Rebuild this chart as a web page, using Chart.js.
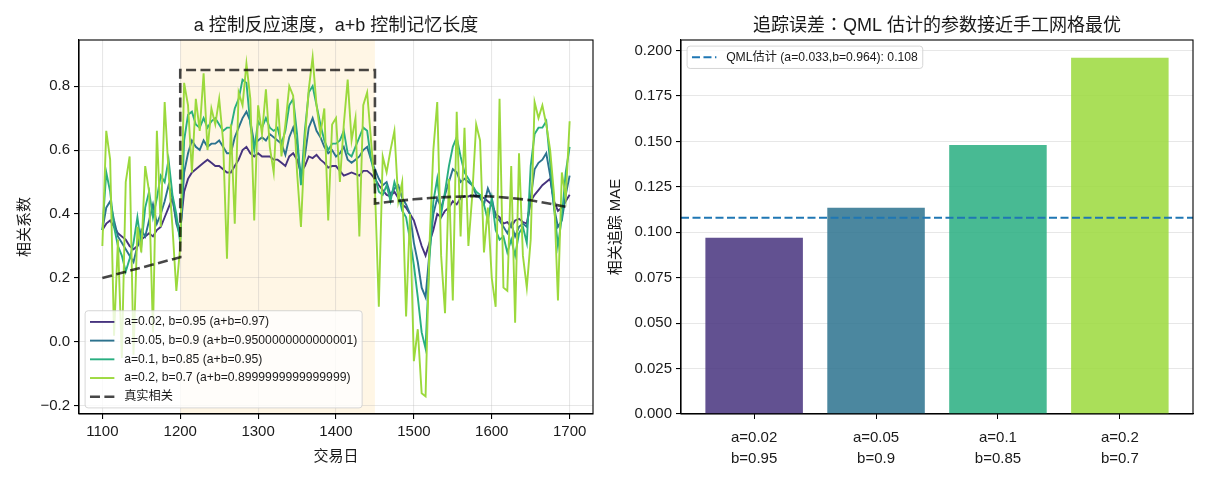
<!DOCTYPE html>
<html>
<head>
<meta charset="utf-8">
<script src="https://cdn.jsdelivr.net/npm/chart.js@4.4.1/dist/chart.umd.min.js"></script>
<style>
  html, body { margin: 0; padding: 0; background: #fff; }
  #wrap { position: relative; width: 1210px; height: 484px; }
  #leftChart { position: absolute; left: 0; top: 0; }
  #rightChart { position: absolute; left: 605px; top: 0; }
</style>
</head>
<body>
<div id="wrap">
  <canvas id="leftChart" width="605" height="484"></canvas>
  <canvas id="rightChart" width="605" height="484"></canvas>
</div>
<script>
const FONT = "'Liberation Sans', 'Noto Sans CJK SC', sans-serif";
const TEXT = '#1a1a1a';
const GRID = 'rgba(176,176,176,0.3)';
Chart.defaults.font.family = FONT;
Chart.defaults.color = TEXT;

// ---- left panel: rolling correlation by (a, b) ----
// trading days, sampled every 5 days
const days = [];
for (let d = 1100; d <= 1700; d += 5) days.push(d);

const seriesLabels = [
  'a=0.02, b=0.95 (a+b=0.97)',
  'a=0.05, b=0.9 (a+b=0.9500000000000001)',
  'a=0.1, b=0.85 (a+b=0.95)',
  'a=0.2, b=0.7 (a+b=0.8999999999999999)'
];
const seriesColors = ['#46337e', '#2c728e', '#28ae80', '#9bd93c'];

const corrA002 = [
  0.35, 0.37, 0.38, 0.36, 0.34, 0.33, 0.32, 0.30, 0.29, 0.30, 0.32, 0.33, 0.34, 0.33, 0.35, 0.36, 0.39, 0.42, 0.45, 0.38, 0.35,
  0.47, 0.51, 0.53, 0.54, 0.55, 0.56, 0.57, 0.56, 0.55, 0.55, 0.54, 0.53, 0.53, 0.55, 0.57, 0.60, 0.61, 0.59, 0.58, 0.59,
  0.58, 0.58, 0.58, 0.57, 0.57, 0.56, 0.55, 0.58, 0.59, 0.57, 0.53, 0.55, 0.58, 0.575, 0.585, 0.57, 0.56, 0.545, 0.55, 0.55,
  0.535, 0.52, 0.525, 0.53, 0.525, 0.52, 0.535, 0.535, 0.525, 0.51, 0.49, 0.475, 0.46, 0.455, 0.47, 0.45, 0.43, 0.42, 0.40, 0.38,
  0.34, 0.30, 0.27, 0.31, 0.35, 0.40, 0.39, 0.41, 0.42, 0.44, 0.43, 0.45, 0.455, 0.455, 0.46, 0.455, 0.455, 0.45, 0.44, 0.43,
  0.40, 0.39, 0.37, 0.375, 0.36, 0.38, 0.385, 0.375, 0.37, 0.44, 0.46, 0.475, 0.49, 0.50, 0.51, 0.44, 0.41, 0.42, 0.44, 0.46
];
const corrA005 = [
  0.35, 0.42, 0.44, 0.38, 0.33, 0.31, 0.29, 0.27, 0.25, 0.30, 0.35, 0.33, 0.38, 0.43, 0.37, 0.40, 0.44, 0.49, 0.45, 0.37, 0.33,
  0.53, 0.59, 0.63, 0.61, 0.60, 0.63, 0.61, 0.62, 0.62, 0.63, 0.61, 0.59, 0.59, 0.64, 0.67, 0.70, 0.72, 0.69, 0.62, 0.63,
  0.64, 0.63, 0.65, 0.64, 0.63, 0.62, 0.585, 0.64, 0.67, 0.62, 0.51, 0.58, 0.67, 0.70, 0.66, 0.64, 0.61, 0.59, 0.60, 0.58,
  0.59, 0.61, 0.57, 0.56, 0.57, 0.58, 0.60, 0.61, 0.57, 0.54, 0.51, 0.49, 0.50, 0.46, 0.48, 0.49, 0.45, 0.43, 0.40, 0.31,
  0.25, 0.17, 0.14, 0.28, 0.40, 0.45, 0.42, 0.46, 0.50, 0.54, 0.53, 0.50, 0.51, 0.50, 0.49, 0.46, 0.45, 0.43, 0.48, 0.45,
  0.39, 0.38, 0.36, 0.34, 0.37, 0.33, 0.36, 0.37, 0.36, 0.45, 0.54, 0.56, 0.57, 0.59, 0.52, 0.42, 0.36, 0.38, 0.46, 0.52
];
const corrA01 = [
  0.35, 0.53, 0.47, 0.36, 0.30, 0.27, 0.22, 0.26, 0.31, 0.39, 0.30, 0.42, 0.47, 0.39, 0.45, 0.52, 0.50, 0.57, 0.46, 0.40, 0.31,
  0.63, 0.71, 0.72, 0.68, 0.67, 0.70, 0.67, 0.69, 0.70, 0.68, 0.66, 0.67, 0.67, 0.73, 0.76, 0.82, 0.81, 0.68, 0.60, 0.69,
  0.67, 0.70, 0.67, 0.66, 0.67, 0.62, 0.66, 0.74, 0.76, 0.65, 0.49, 0.66, 0.78, 0.80, 0.74, 0.68, 0.63, 0.60, 0.62, 0.62,
  0.63, 0.66, 0.59, 0.58, 0.61, 0.64, 0.67, 0.66, 0.57, 0.52, 0.47, 0.46, 0.49, 0.44, 0.50, 0.46, 0.41, 0.39, 0.32, 0.24,
  0.14, 0.03, -0.02, 0.26, 0.44, 0.51, 0.40, 0.47, 0.55, 0.61, 0.64, 0.58, 0.53, 0.51, 0.49, 0.47, 0.46, 0.43, 0.38, 0.45,
  0.35, 0.32, 0.33, 0.28, 0.32, 0.27, 0.34, 0.36, 0.31, 0.55, 0.65, 0.67, 0.67, 0.69, 0.56, 0.42, 0.30, 0.39, 0.53, 0.61
];
const corrA02 = [
  0.30, 0.66, 0.57, 0.02, 0.32, -0.05, 0.50, 0.58, -0.04, 0.36, 0.28, 0.55, 0.47, 0.03, 0.66, 0.36, 0.75, 0.53, 0.36, 0.16, 0.30,
  0.81, 0.74, 0.53, 0.76, 0.66, 0.84, 0.60, 0.73, 0.68, 0.76, 0.63, 0.26, 0.68, 0.37, 0.78, 0.74, 0.87, 0.76, 0.38, 0.74,
  0.65, 0.79, 0.61, 0.53, 0.76, 0.58, 0.68, 0.80, 0.77, 0.53, 0.36, 0.63, 0.79, 0.89, 0.74, 0.65, 0.73, 0.38, 0.68, 0.70,
  0.50, 0.68, 0.82, 0.63, 0.70, 0.33, 0.74, 0.78, 0.63, 0.48, 0.11, 0.58, 0.53, 0.60, 0.66, 0.44, 0.50, 0.08, 0.40, -0.06,
  0.04, -0.16, -0.17, 0.30, 0.60, 0.75, 0.27, 0.09, 0.51, 0.13, 0.72, 0.33, 0.67, 0.30, 0.46, 0.68, 0.63, 0.28, 0.42, 0.20,
  0.11, 0.76, 0.17, 0.16, 0.55, 0.06, 0.59, 0.27, 0.17, 0.32, 0.75, 0.70, 0.74, 0.68, 0.60, 0.46, 0.13, 0.53, 0.45, 0.69
];
const allSeries = [corrA002, corrA005, corrA01, corrA02];

// true correlation: jumps at the regime boundaries
const trueDays = [1100, 1200, 1200, 1450, 1450, 1475, 1500, 1525, 1550, 1575, 1600, 1625, 1650, 1675, 1700];
const trueCorr = [0.20, 0.265, 0.85, 0.85, 0.433, 0.440, 0.446, 0.451, 0.454, 0.456, 0.455, 0.450, 0.443, 0.432, 0.42];
const regimeStart = 1200, regimeEnd = 1450;

const xTicksLeft = [1100, 1200, 1300, 1400, 1500, 1600, 1700];
const yTicksLeft = [-0.2, 0, 0.2, 0.4, 0.6, 0.8];

// ---- right panel: tracking MAE ----
const paramA = ['0.02', '0.05', '0.1', '0.2'];
const paramB = ['0.95', '0.9', '0.85', '0.7'];
const maeVals = [0.097, 0.1135, 0.148, 0.196];
const barColors = ['rgba(70,51,126,0.85)', 'rgba(44,114,142,0.85)', 'rgba(40,174,128,0.85)', 'rgba(155,217,60,0.85)'];
const qmlMae = 0.108;
const qmlLabel = 'QML估计 (a=0.033,b=0.964): 0.108';
const yTicksRight = [0, 0.025, 0.05, 0.075, 0.1, 0.125, 0.15, 0.175, 0.2];
const xMinR = -0.6, xMaxR = 3.6;

function drawFrame(chart) {
  const { ctx, chartArea: a } = chart;
  ctx.save();
  ctx.strokeStyle = '#000';
  ctx.lineWidth = 1.1;
  ctx.strokeRect(a.left, a.top, a.right - a.left, a.bottom - a.top);
  ctx.restore();
}

function drawLegend(chart, items, where) {
  const { ctx, chartArea: a } = chart;
  const fs = 12.2, pad = 0.4 * fs, handle = 2 * fs, gap = 0.8 * fs, rowGap = 0.5 * fs, rowH = 12.6, edge = 0.5 * fs;
  ctx.save();
  ctx.font = fs + 'px ' + FONT;
  const textW = Math.max(...items.map(it => ctx.measureText(it.label).width));
  const w = 2 * pad + handle + gap + textW;
  const h = 2 * pad + items.length * rowH + (items.length - 1) * rowGap;
  const x0 = a.left + edge;
  const y0 = where === 'lower left' ? a.bottom - edge - h : a.top + edge;
  ctx.beginPath();
  ctx.roundRect(x0, y0, w, h, 3);
  ctx.fillStyle = 'rgba(255,255,255,0.8)';
  ctx.fill();
  ctx.strokeStyle = 'rgba(204,204,204,0.8)';
  ctx.lineWidth = 1;
  ctx.stroke();
  items.forEach((it, i) => {
    const cy = y0 + pad + i * (rowH + rowGap) + rowH / 2;
    ctx.beginPath();
    ctx.setLineDash(it.dash || []);
    ctx.strokeStyle = it.color;
    ctx.lineWidth = it.width;
    ctx.moveTo(x0 + pad, cy);
    ctx.lineTo(x0 + pad + handle, cy);
    ctx.stroke();
    ctx.setLineDash([]);
    ctx.fillStyle = TEXT;
    ctx.textBaseline = 'middle';
    ctx.textAlign = 'left';
    ctx.fillText(it.label, x0 + pad + handle + gap, cy);
  });
  ctx.restore();
}

function legendItems(chart) {
  return chart.data.datasets
    .filter(ds => ds.inLegend)
    .map(ds => ({ label: ds.label, color: ds.borderColor, dash: ds.borderDash, width: ds.borderWidth }));
}

const leftPlugin = {
  id: 'leftDecor',
  beforeDraw(chart) {
    // shaded high-correlation regime, under the grid
    const { ctx, chartArea: a, scales } = chart;
    const x1 = scales.x.getPixelForValue(regimeStart);
    const x2 = scales.x.getPixelForValue(regimeEnd);
    ctx.save();
    ctx.fillStyle = 'rgba(255,165,0,0.1)';
    ctx.fillRect(x1, a.top, x2 - x1, a.bottom - a.top);
    ctx.restore();
  },
  afterDatasetsDraw(chart) { drawFrame(chart); },
  afterDraw(chart) { drawLegend(chart, legendItems(chart), 'lower left'); }
};

const rightPlugin = {
  id: 'rightDecor',
  afterDatasetsDraw(chart) { drawFrame(chart); },
  afterDraw(chart) { drawLegend(chart, legendItems(chart), 'upper left'); }
};

const leftDatasets = allSeries.map((vals, i) => ({
  label: seriesLabels[i],
  data: days.map((d, j) => ({ x: d, y: vals[j] })),
  borderColor: seriesColors[i],
  borderWidth: 1.9,
  pointRadius: 0,
  tension: 0,
  order: 4 - i,
  inLegend: true
}));
leftDatasets.push({
  label: '真实相关',
  data: trueDays.map((d, j) => ({ x: d, y: trueCorr[j] })),
  borderColor: 'rgba(0,0,0,0.72)',
  borderWidth: 2.6,
  borderDash: [10, 4.4],
  pointRadius: 0,
  tension: 0,
  order: 0,
  inLegend: true
});

new Chart(document.getElementById('leftChart').getContext('2d'), {
  type: 'line',
  data: { datasets: leftDatasets },
  options: {
    responsive: false,
    animation: false,
    layout: { padding: { left: 0, right: 12, top: 0, bottom: 0 } },
    plugins: {
      legend: { display: false },
      tooltip: { enabled: false },
      title: {
        display: true,
        text: 'a 控制反应速度，a+b 控制记忆长度',
        font: { size: 18, weight: 'normal' },
        color: TEXT,
        fullSize: false,
        padding: { top: 15, bottom: 3.4 }
      }
    },
    scales: {
      x: {
        type: 'linear',
        min: 1070,
        max: 1730,
        afterBuildTicks: s => { s.ticks = xTicksLeft.map(v => ({ value: v })); },
        afterFit: s => { s.height = 70; },
        grid: { color: GRID, lineWidth: 1.1, tickColor: '#000', tickLength: 5 },
        border: { color: '#000', width: 1.1 },
        ticks: { font: { size: 15 }, padding: 4, maxRotation: 0, color: TEXT, callback: v => String(v) },
        title: { display: true, text: '交易日', font: { size: 15 }, color: TEXT, padding: { top: 0, bottom: 18 } }
      },
      y: {
        type: 'linear',
        min: -0.225,
        max: 0.944,
        afterBuildTicks: s => { s.ticks = yTicksLeft.map(v => ({ value: v })); },
        afterFit: s => { s.width = 79; },
        grid: { color: GRID, lineWidth: 1.1, tickColor: '#000', tickLength: 5 },
        border: { color: '#000', width: 1.1 },
        ticks: { font: { size: 15 }, padding: 4, color: TEXT, callback: v => v.toFixed(1).replace('-', '\u2212') },
        title: { display: true, text: '相关系数', font: { size: 15 }, color: TEXT, padding: { top: 16, bottom: 0 } }
      }
    }
  },
  plugins: [leftPlugin]
});

new Chart(document.getElementById('rightChart').getContext('2d'), {
  type: 'bar',
  data: {
    datasets: [
      {
        type: 'bar',
        label: 'MAE',
        data: maeVals.map((v, i) => ({ x: i, y: v })),
        backgroundColor: barColors,
        borderWidth: 0,
        categoryPercentage: 1,
        barPercentage: 0.8,
        order: 1
      },
      {
        type: 'line',
        label: qmlLabel,
        data: [{ x: xMinR, y: qmlMae }, { x: xMaxR, y: qmlMae }],
        borderColor: '#1f77b4',
        borderWidth: 2.1,
        borderDash: [8, 3.5],
        pointRadius: 0,
        order: 0,
        inLegend: true
      }
    ]
  },
  options: {
    responsive: false,
    animation: false,
    layout: { padding: { left: 0, right: 17, top: 0, bottom: 0 } },
    plugins: {
      legend: { display: false },
      tooltip: { enabled: false },
      title: {
        display: true,
        text: '追踪误差：QML 估计的参数接近手工网格最优',
        // JP glyphs put the full-width colon in the middle of its cell
        font: { size: 18, weight: 'normal', family: "'Liberation Sans', 'Noto Sans CJK JP', sans-serif" },
        color: TEXT,
        fullSize: false,
        padding: { top: 15, bottom: 3.4 }
      }
    },
    scales: {
      x: {
        type: 'linear',
        offset: false,
        min: xMinR,
        max: xMaxR,
        afterBuildTicks: s => { s.ticks = paramA.map((_, i) => ({ value: i })); },
        afterFit: s => { s.height = 70; },
        grid: { offset: false, drawOnChartArea: false, tickColor: '#000', tickLength: 5 },
        border: { color: '#000', width: 1.1 },
        ticks: {
          font: { size: 15, lineHeight: 1.35 },
          padding: 9,
          maxRotation: 0,
          color: TEXT,
          callback: v => ['a=' + paramA[v], 'b=' + paramB[v]]
        }
      },
      y: {
        type: 'linear',
        min: 0,
        max: 0.2058,
        afterBuildTicks: s => { s.ticks = yTicksRight.map(v => ({ value: v })); },
        afterFit: s => { s.width = 76; },
        grid: { color: GRID, lineWidth: 1.1, tickColor: '#000', tickLength: 5 },
        border: { color: '#000', width: 1.1 },
        ticks: { font: { size: 15 }, padding: 4, color: TEXT, callback: v => v.toFixed(3) },
        title: { display: true, text: '相关追踪 MAE', font: { size: 15 }, color: TEXT, padding: { top: 2, bottom: 0 } }
      }
    }
  },
  plugins: [rightPlugin]
});
</script>
</body>
</html>
